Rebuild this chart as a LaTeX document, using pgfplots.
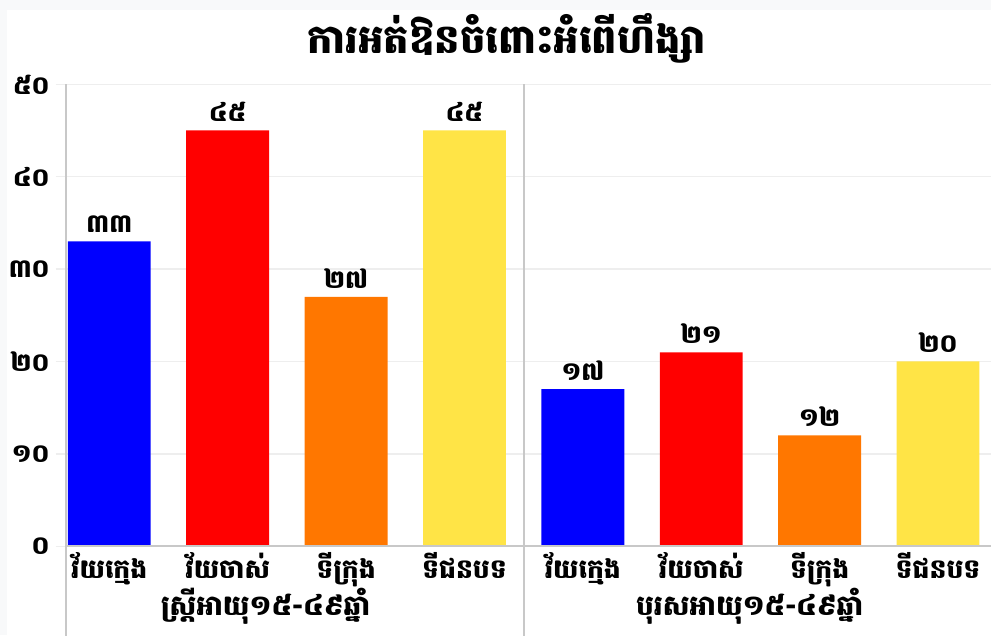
\documentclass[border=0pt]{standalone}
\usepackage{pgfplots}
\pgfplotsset{compat=1.18}
\usepackage{fontspec}
\newfontfamily\khmer[Script=Khmer]{Battambang}
\definecolor{bgpanel}{HTML}{F8F9FA}
\definecolor{axisgray}{HTML}{C8C8C8}
\definecolor{gridgray}{HTML}{EEEEEE}
\definecolor{cblue}{HTML}{0000FF}
\definecolor{cred}{HTML}{FF0000}
\definecolor{corange}{HTML}{FF7700}
\definecolor{cyellow}{HTML}{FFE446}
\begin{document}
\begin{tikzpicture}[x=0.75pt,y=0.75pt]
% page background: 991 x 635 px
\fill[bgpanel] (0,0) rectangle (991,635);
\fill[white] (7,0) rectangle (991,625);
\node[font=\khmer\bfseries\fontsize{30}{34}\selectfont] at (507,597) {ការអត់ឱនចំពោះអំពើហឹង្សា};
\begin{axis}[
  at={(56,96)}, anchor=south west,
  scale only axis,
  width=693.75pt, height=346.5pt,
  xmin=-0.363, xmax=7.45,
  ymin=0, ymax=50,
  axis line style={draw=none},
  ytick={0,10,20,30,40,50},
  yticklabels={០,១០,២០,៣០,៤០,៥០},
  yticklabel style={font=\khmer\bfseries\fontsize{19}{22}\selectfont, xshift=-1pt},
  ymajorgrids,
  major grid style={gridgray, line width=1pt},
  ytick style={gridgray, line width=1pt},
  major tick length=8pt,
  ytick align=outside,
  xtick={0,1,2,3,4,5,6,7},
  xticklabels={វ័យក្មេង,វ័យចាស់,ទីក្រុង,ទីជនបទ,វ័យក្មេង,វ័យចាស់,ទីក្រុង,ទីជនបទ},
  xticklabel style={font=\khmer\bfseries\fontsize{20}{22}\selectfont, text=black, yshift=7pt},
  xtick style={draw=none},
  ybar, bar width=0.7, bar shift=0pt,
  point meta=explicit symbolic,
  nodes near coords,
  every node near coord/.append style={font=\khmer\bfseries\fontsize{19}{22}\selectfont, black, yshift=3pt},
  clip=false,
]
\addplot[fill=cblue, draw=none] coordinates {(0,33) [៣៣] (4,17) [១៧]};
\addplot[fill=cred, draw=none] coordinates {(1,45) [៤៥] (5,21) [២១]};
\addplot[fill=corange, draw=none] coordinates {(2,27) [២៧] (6,12) [១២]};
\addplot[fill=cyellow, draw=none] coordinates {(3,45) [៤៥] (7,20) [២០]};
\draw[axisgray, line width=1.5pt] (axis cs:-0.363,0) -- (axis cs:7.45,0);
\draw[axisgray, line width=1.5pt] (axis cs:-0.363,50) -- ([yshift=-70pt]axis cs:-0.363,0);
\draw[axisgray, line width=1.5pt] (axis cs:3.5,50) -- ([yshift=-70pt]axis cs:3.5,0);
\node[font=\khmer\bfseries\fontsize{21}{24}\selectfont] at ([yshift=-45pt]axis cs:1.32,0) {ស្ត្រីអាយុ១៥-៤៩ឆ្នាំ};
\node[font=\khmer\bfseries\fontsize{21}{24}\selectfont] at ([yshift=-45pt]axis cs:5.41,0) {បុរសអាយុ១៥-៤៩ឆ្នាំ};
\end{axis}
\pgfresetboundingbox
\path[use as bounding box] (0,0) rectangle (991,635);
\end{tikzpicture}
\end{document}
